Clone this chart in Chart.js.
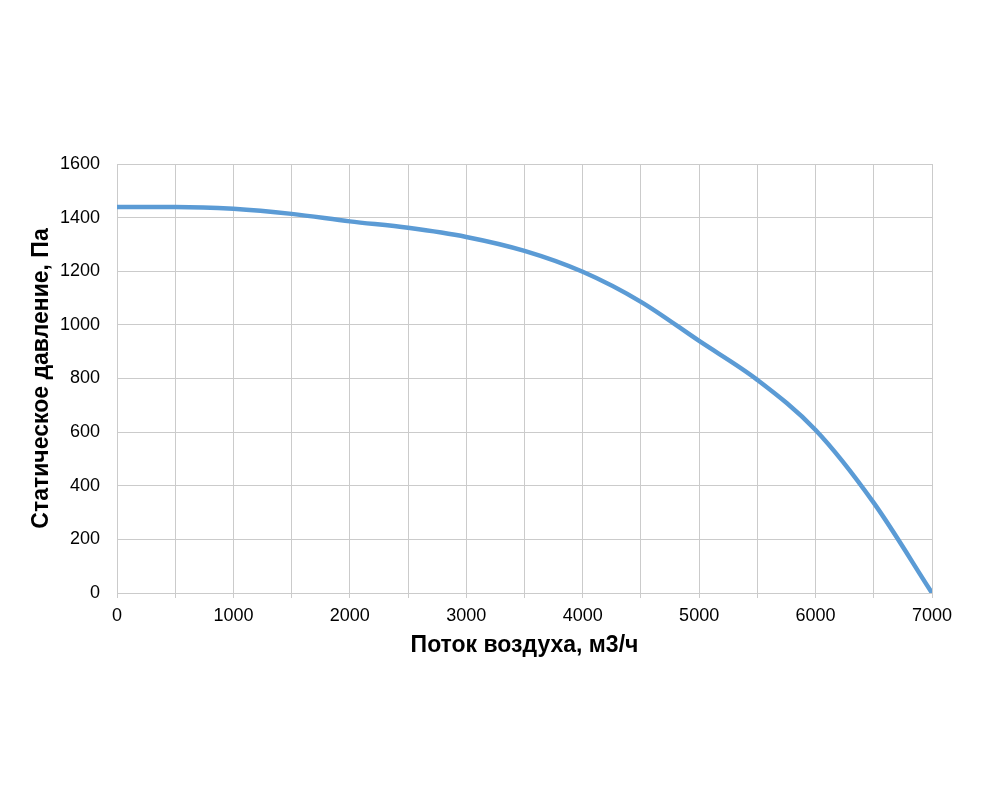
<!DOCTYPE html>
<html>
<head>
<meta charset="utf-8">
<script src="https://cdn.jsdelivr.net/npm/chart.js@4"></script>
<style>
  body { margin: 0; background: #fff; }
</style>
</head>
<body>
<canvas id="myChart" width="988" height="809"></canvas>
<script>
// расход воздуха, м3/ч
var potok = [0, 500, 1000, 1500, 2000, 2500, 3000, 3500, 4000, 4500, 5000, 5500, 6000, 6500, 7000];
// статическое давление, Па
var davlenie = [1440, 1440, 1433, 1414, 1386, 1362, 1328, 1276, 1198, 1086, 940, 795, 608, 336, 0];

var yTicks = [0, 200, 400, 600, 800, 1000, 1200, 1400, 1600];

var points = potok.map((x, i) => ({ x: x, y: davlenie[i] }));

const data = {
  datasets: [{
    label: 'Статическое давление',
    data: points,
    fill: false,
    borderColor: '#5b9bd5',
    borderWidth: 4.5,
    pointRadius: 0,
    cubicInterpolationMode: 'monotone'
  }]
};

const grid = '#cbcbcb';

const myChart = new Chart("myChart", {
  type: "line",
  data: data,
  options: {
    responsive: false,
    animation: false,
    layout: { padding: { top: 164, right: 56, left: 0, bottom: 150 } },
    plugins: { legend: { display: false }, tooltip: { enabled: false } },
    scales: {
      x: {
        type: 'linear',
        min: 0,
        max: 7000,
        ticks: {
          stepSize: 500,
          color: '#000',
          font: { family: 'Liberation Sans', size: 18 },
          padding: 7,
          maxRotation: 0,
          autoSkip: false,
          callback: (v) => v % 1000 === 0 ? String(v) : ''
        },
        grid: { color: grid, lineWidth: 1, tickLength: 5, tickColor: grid },
        border: { color: grid },
        title: {
          display: true,
          text: 'Поток воздуха, м3/ч',
          color: '#000',
          font: { family: 'Liberation Sans', size: 23, weight: 'bold' },
          padding: { top: 0, bottom: 0 }
        },
        afterFit: (s) => { s.height = 659 - 593; }
      },
      y: {
        min: 0,
        max: 1600,
        afterBuildTicks: (s) => { s.ticks = yTicks.map(v => ({ value: v })); },
        ticks: {
          color: '#000',
          font: { family: 'Liberation Sans', size: 18 },
          padding: 17,
          callback: (v) => String(v)
        },
        grid: { color: grid, lineWidth: 1, drawTicks: false },
        border: { color: grid },
        title: {
          display: true,
          text: 'Статическое давление, Па',
          color: '#000',
          font: { family: 'Liberation Sans', size: 23, weight: 'bold' },
          padding: { top: 28, bottom: 0 }
        },
        afterFit: (s) => { s.width = 117; }
      }
    }
  }
});
</script>
</body>
</html>
